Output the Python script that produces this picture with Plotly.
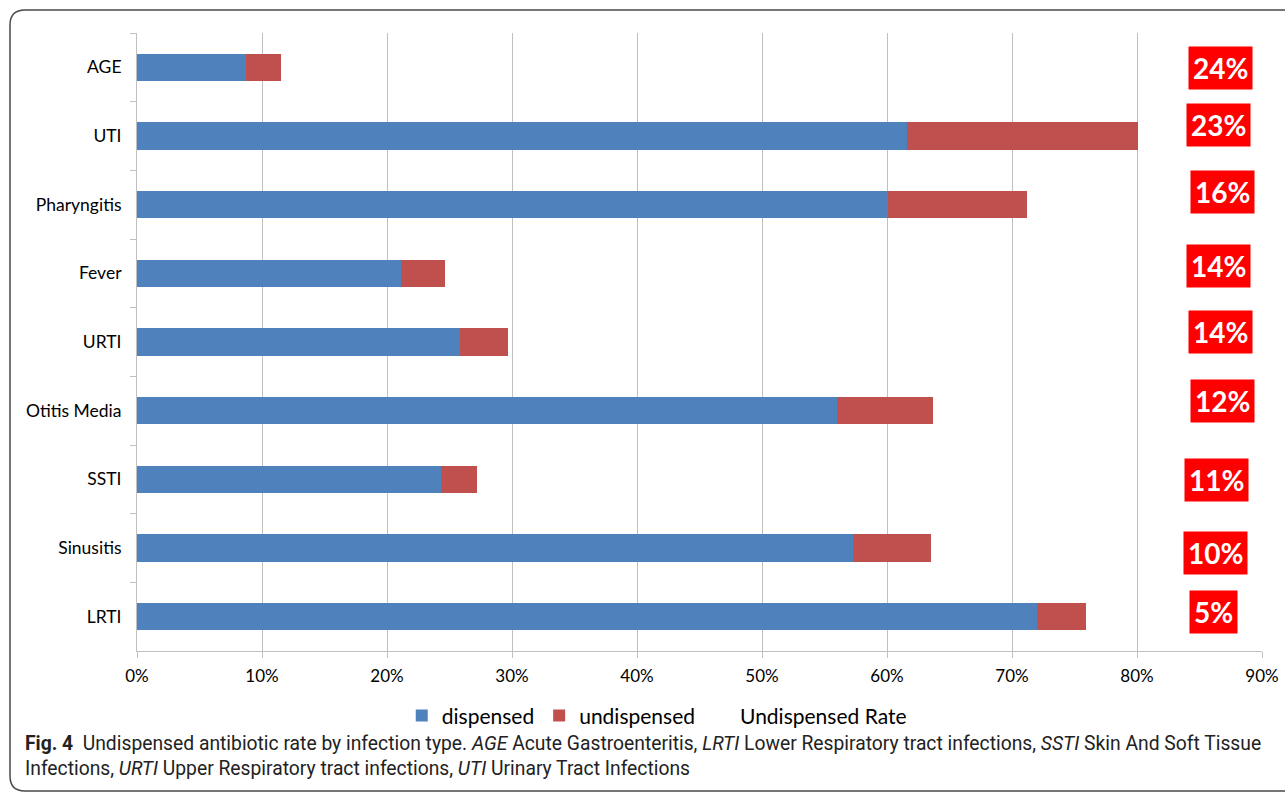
import plotly.graph_objects as go

categories = ["AGE", "UTI", "Pharyngitis", "Fever", "URTI", "Otitis Media", "SSTI", "Sinusitis", "LRTI"]
dispensed = [8.7, 61.6, 60.1, 21.1, 25.8, 56.0, 24.3, 57.3, 72.0]
undispensed = [2.8, 18.5, 11.1, 3.5, 3.9, 7.7, 2.9, 6.2, 3.9]
rate_labels = ["24%", "23%", "16%", "14%", "14%", "12%", "11%", "10%", "5%"]
x_ticks = [0, 10, 20, 30, 40, 50, 60, 70, 80, 90]
x_tick_labels = ["0%", "10%", "20%", "30%", "40%", "50%", "60%", "70%", "80%", "90%"]

# small visual offsets of the red label boxes (style only)
box_yshift = [-1, 11, 13, 7, 10, 10, -1, -5, 5]
box_xshift = [2, 0, 4, 0, 2, 4, -2, -3, -5]

FONT = "Lato, Open Sans, sans-serif"
BLUE = "#4F81BD"
RED = "#C0504D"
GRID = "#BFBFBF"

fig = go.Figure()
fig.add_trace(go.Bar(
    y=categories, x=dispensed, orientation="h", name="dispensed",
    marker=dict(color=BLUE, line=dict(width=0)),
))
fig.add_trace(go.Bar(
    y=categories, x=undispensed, orientation="h", name="undispensed",
    marker=dict(color=RED, line=dict(width=0)),
))
fig.add_trace(go.Scatter(
    x=[None], y=[None], mode="markers", name="Undispensed Rate",
    marker=dict(color="rgba(0,0,0,0)", size=1),
))

annotations = []
for cat, lab, ys, xs in zip(categories, rate_labels, box_yshift, box_xshift):
    annotations.append(dict(
        x=86.5, y=cat, xref="x", yref="y", text=f"<b>{lab}</b>",
        showarrow=False, yshift=ys, xshift=xs,
        font=dict(family=FONT, size=28, color="white"),
        bgcolor="#FF0000", borderpad=4,
    ))

annotations.append(dict(
    x=-0.1013, y=-0.128, xref="paper", yref="paper", xanchor="left", yanchor="top",
    align="left", showarrow=False,
    text=("<b>Fig. 4</b>  Undispensed antibiotic rate by infection type. <i>AGE</i> Acute Gastroenteritis, "
          "<i>LRTI</i> Lower Respiratory tract infections, <i>SSTI</i> Skin And Soft Tissue<br>"
          "Infections, <i>URTI</i> Upper Respiratory tract infections, <i>UTI</i> Urinary Tract Infections"),
    font=dict(family="Roboto, sans-serif", size=19.3, color="#222222"),
))

# rounded outer frame (paper coordinates)
x0, x1 = (10 - 137) / 1125, (1300 - 137) / 1125
yt, yb = (651 - 10) / 618, (651 - 791) / 618
rx, ry = 15 / 1125, 15 / 618
path = (f"M {x1},{yt} L {x0+rx},{yt} Q {x0},{yt} {x0},{yt-ry} "
        f"L {x0},{yb+ry} Q {x0},{yb} {x0+rx},{yb} L {x1},{yb}")

fig.update_layout(
    width=1285, height=793,
    margin=dict(l=137, r=23, t=33, b=142, autoexpand=False),
    paper_bgcolor="white", plot_bgcolor="white",
    barmode="stack", bargap=0.6,
    font=dict(family=FONT, size=17, color="black"),
    xaxis=dict(
        range=[0, 90], tickmode="array", tickvals=x_ticks, ticktext=x_tick_labels,
        showgrid=True, gridcolor=GRID, gridwidth=1,
        showline=True, linecolor=GRID, linewidth=1,
        ticks="outside", ticklen=6, tickcolor=GRID, automargin=False,
        zeroline=False, tickfont=dict(size=17), ticklabelstandoff=4,
    ),
    yaxis=dict(
        autorange="reversed", showgrid=False, automargin=False,
        showline=True, linecolor=GRID, linewidth=1,
        ticks="outside", ticklen=6, tickcolor=GRID, tickson="boundaries",
        tickfont=dict(size=17.5), ticklabelstandoff=11,
    ),
    legend=dict(
        orientation="h", x=0.462, xanchor="center", y=-0.105, yanchor="middle",
        font=dict(size=21), bgcolor="rgba(0,0,0,0)", traceorder="normal",
    ),
    annotations=annotations,
    shapes=[dict(type="path", xref="paper", yref="paper", path=path,
                 line=dict(color="#4A4A4A", width=1.5))],
)

fig.write_html("out.html")
